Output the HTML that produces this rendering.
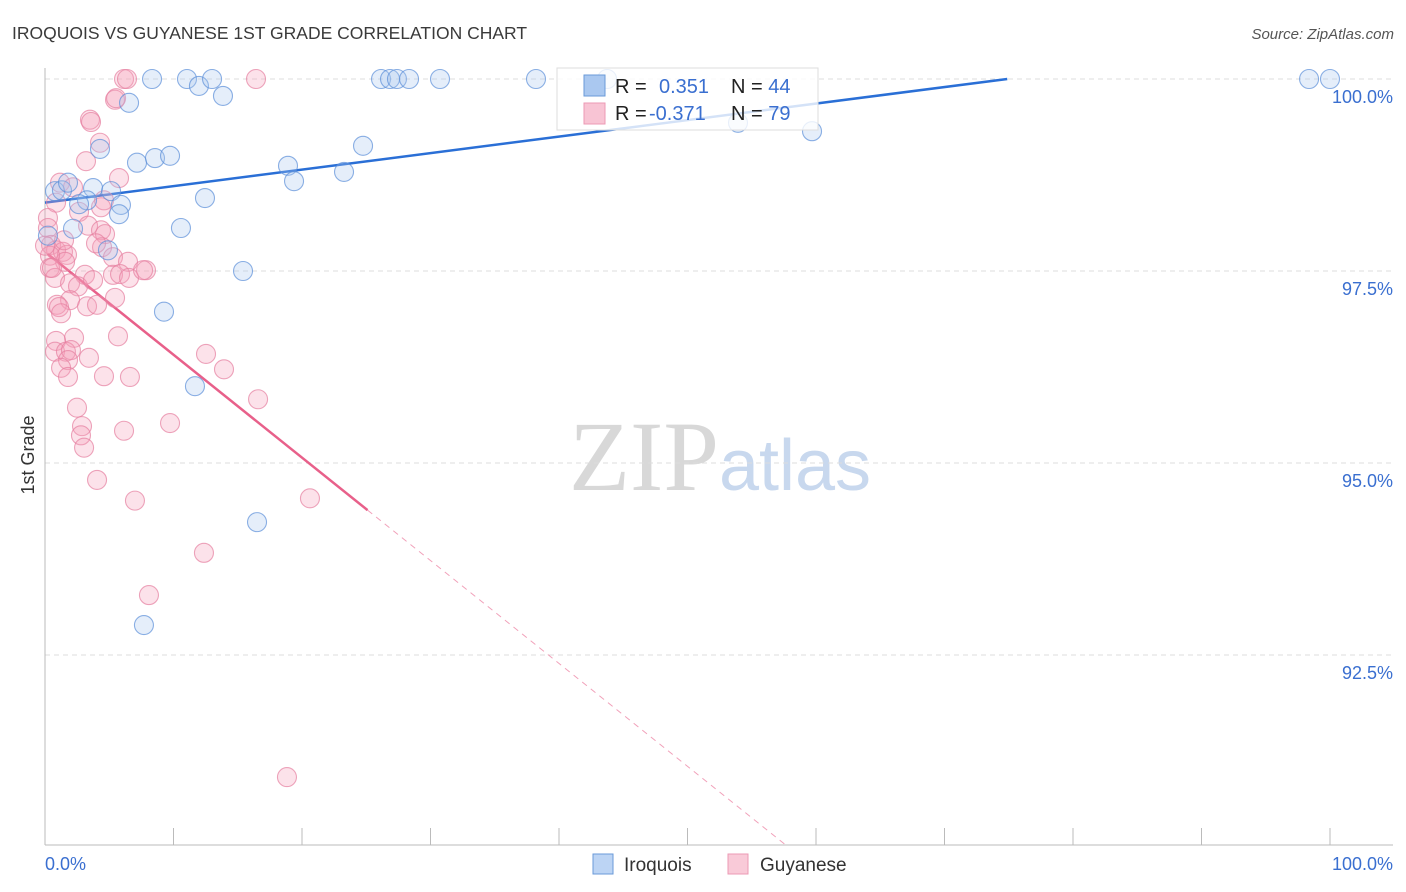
<!DOCTYPE html>
<html><head><meta charset="utf-8"><style>
body{margin:0;background:#fff;font-family:"Liberation Sans",sans-serif}
svg{display:block}
</style></head><body>
<svg id="chart" width="1406" height="892" viewBox="0 0 1406 892">
<text x="12" y="39" font-size="17.5" fill="#3a3a3a">IROQUOIS VS GUYANESE 1ST GRADE CORRELATION CHART</text>
<text x="1394" y="39" font-size="15" fill="#555" font-style="italic" text-anchor="end">Source: ZipAtlas.com</text>
<text x="720" y="490" font-size="100" text-anchor="middle" font-family="Liberation Serif,serif" fill="#ddd"><tspan fill="#d8d8d8">ZIP</tspan><tspan font-family="Liberation Sans,sans-serif" font-size="72" fill="#c8d8ee">atlas</tspan></text>
<text transform="translate(34,455) rotate(-90)" font-size="18" fill="#333" text-anchor="middle">1st Grade</text>
<g id="grid"></g><g id="axes"></g><g id="trend"></g><g id="pts"></g>
<g>
<rect x="557" y="68" width="261" height="62" fill="#fff" fill-opacity="0.8" stroke="#ddd"/>
<rect x="584" y="75" width="21" height="21" fill="#aac8f0" stroke="#6a9ad8"/>
<rect x="584" y="103" width="21" height="21" fill="#f8c4d4" stroke="#ec9ab4"/>
<text x="615" y="93" font-size="20" fill="#222">R = <tspan fill="#3a6fd0" x="659">0.351</tspan><tspan fill="#222" x="731">N = </tspan><tspan fill="#3a6fd0">44</tspan></text>
<text x="615" y="120" font-size="20" fill="#222">R = <tspan fill="#3a6fd0" x="649">-0.371</tspan><tspan fill="#222" x="731">N = </tspan><tspan fill="#3a6fd0">79</tspan></text>
</g>
<g>
<rect x="593" y="854" width="20" height="20" fill="#bcd4f4" stroke="#6a9ad8"/>
<text x="624" y="871" font-size="19" fill="#333">Iroquois</text>
<rect x="728" y="854" width="20" height="20" fill="#f9cad8" stroke="#ec9ab4"/>
<text x="760" y="871" font-size="19" fill="#333">Guyanese</text>
</g>
</svg>
<script>
const yTicks=[100,97.5,95,92.5];
const yTickLabels=["100.0%","97.5%","95.0%","92.5%"];
const xTickLabels=["0.0%","100.0%"];
const iroX=[8.33,11.05,11.98,13.0,13.85,6.54,26.15,26.85,27.39,28.33,30.74,38.21,43.74,98.37,100,53.93,59.69,24.75,18.91,7.16,8.56,9.73,4.28,19.38,23.27,12.45,0.78,1.32,1.79,3.74,5.14,3.27,2.65,5.91,5.76,2.18,10.58,0.23,4.90,15.41,9.26,11.67,16.5,7.7];
const iroY=[100,100,99.91,100,99.78,99.69,100,100,100,100,100,100,100,100,100,99.43,99.32,99.13,98.87,98.91,98.97,99.0,99.09,98.67,98.79,98.45,98.54,98.55,98.65,98.58,98.54,98.42,98.37,98.36,98.24,98.05,98.06,97.96,97.77,97.5,96.97,96.0,94.23,92.89];
const guyX=[6.15,6.38,16.42,5.45,3.50,3.58,4.28,3.19,5.76,1.17,2.18,4.59,4.36,0.86,2.65,3.35,4.36,4.67,0.23,0.23,0.47,0.86,1.40,1.71,1.56,0.39,0.39,4.44,5.29,6.46,3.97,3.11,5.29,5.84,6.54,7.86,7.63,0.78,1.95,2.57,3.74,1.95,0.93,1.09,3.27,4.05,5.45,1.25,5.68,2.26,0.86,0.78,1.63,2.02,3.42,1.79,1.25,4.59,6.61,1.79,12.53,13.93,16.58,2.49,2.88,2.80,6.15,9.73,3.04,4.05,7.00,20.62,12.37,8.09,18.83,5.53,0.54,1.48,0];
const guyY=[100,100,100,99.73,99.47,99.44,99.17,98.93,98.71,98.65,98.59,98.42,98.33,98.39,98.27,98.09,98.03,97.98,98.19,98.06,97.84,97.77,97.75,97.71,97.62,97.70,97.54,97.81,97.68,97.62,97.86,97.45,97.45,97.46,97.41,97.51,97.51,97.41,97.34,97.30,97.38,97.12,97.06,97.03,97.04,97.06,97.15,96.95,96.65,96.63,96.59,96.45,96.45,96.47,96.37,96.34,96.24,96.13,96.12,96.12,96.42,96.22,95.83,95.72,95.48,95.36,95.42,95.52,95.20,94.78,94.51,94.54,93.83,93.28,90.91,99.75,97.54,97.90,97.83];
const iroTrend=[98.39,0.0215]; // intercept, slope
const guyTrend=[97.75,-0.134];
const NS="http://www.w3.org/2000/svg";
const X=v=>45+v*12.85, Y=v=>79+(100-v)*76.8;
function mk(t,a,p){const e=document.createElementNS(NS,t);for(const k in a)e.setAttribute(k,a[k]);p.appendChild(e);return e;}
const grid=document.getElementById('grid'),axes=document.getElementById('axes');
yTicks.forEach((t,i)=>{
 const l=mk('line',{x1:45,x2:1393,y1:Y(t),y2:Y(t),stroke:'#ddd','stroke-dasharray':'5,4'},grid);
 
 
 const tx=mk('text',{x:1393,y:Y(t)+24,'font-size':18,fill:'#3a6fd0','text-anchor':'end'},axes);
 tx.textContent=yTickLabels[i];
 
 
});
let a=mk('line',{x1:45,x2:45,y1:68,y2:845,stroke:'#bbb'},axes);


a=mk('line',{x1:45,x2:1393,y1:845,y2:845,stroke:'#bbb'},axes);


for(let i=0;i<=10;i++){const t=mk('line',{x1:X(i*10),x2:X(i*10),y1:828,y2:845,stroke:'#bbb'},axes);
 
 }
[[0,'start',45],[100,'end',1393]].forEach((d,i)=>{const t=mk('text',{x:d[2],y:870,'font-size':18,fill:'#3a6fd0','text-anchor':d[1]},axes);t.textContent=xTickLabels[i];
 
 });
const pts=document.getElementById('pts');
function dots(xs,ys,fill,stroke,name){xs.forEach((x,i)=>{const c=mk('circle',{cx:X(x),cy:Y(ys[i]),r:9.5,fill:fill,'fill-opacity':0.3,stroke:stroke,'stroke-opacity':0.7,'stroke-width':1.1},pts);
 
 });}
dots(guyX,guyY,'#f4a0b8','#e57f9f','guyanese-point');
dots(iroX,iroY,'#a8c6f0','#5b8fd8','iroquois-point');
const tr=document.getElementById('trend');
let xe=(100-iroTrend[0])/iroTrend[1];
let l=mk('line',{x1:X(0),y1:Y(iroTrend[0]),x2:X(xe),y2:Y(100),stroke:'#2a6fd6','stroke-width':2.5},tr);


l=mk('line',{x1:X(0.2),y1:Y(guyTrend[0]+guyTrend[1]*0.2),x2:X(25.1),y2:Y(guyTrend[0]+guyTrend[1]*25.1),stroke:'#e8608a','stroke-width':2.5},tr);


const xd=(guyTrend[0]-90.03)/-guyTrend[1];
l=mk('line',{x1:X(25.1),y1:Y(guyTrend[0]+guyTrend[1]*25.1),x2:X(xd),y2:Y(90.03),stroke:'#e8608a','stroke-width':1,'stroke-dasharray':'6,5','stroke-opacity':0.6},tr);


</script>
</body></html>
